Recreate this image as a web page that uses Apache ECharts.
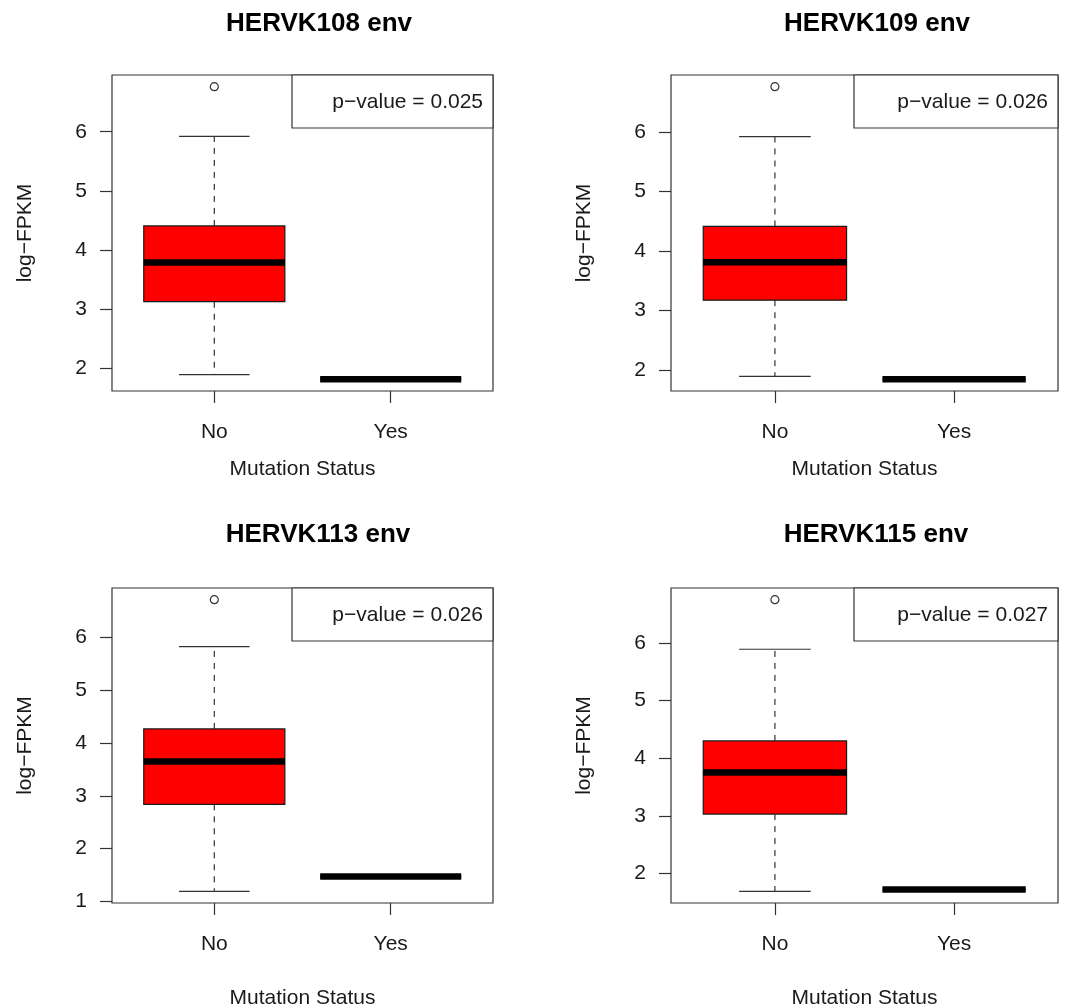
<!DOCTYPE html>
<html>
<head>
<meta charset="utf-8">
<script src="https://cdn.jsdelivr.net/npm/echarts@6/dist/echarts.min.js"></script>
<style>
  html, body { margin: 0; padding: 0; background: #fff; }
  #chart { width: 1073px; height: 1007px; }
</style>
</head>
<body>
<div id="chart"></div>
<script>
// ---------------- data ----------------
const categories = ['No', 'Yes'];
const panelTitles = ['HERVK108 env', 'HERVK109 env', 'HERVK113 env', 'HERVK115 env'];
const pValueLabels = ['p\u2212value = 0.025', 'p\u2212value = 0.026', 'p\u2212value = 0.026', 'p\u2212value = 0.027'];
// "No" group: [lower whisker, Q1, median, Q3, upper whisker]
const noStats108 = [1.90, 3.13, 3.79, 4.41, 5.92];
const noStats109 = [1.89, 3.17, 3.81, 4.41, 5.92];
const noStats113 = [1.19, 2.84, 3.65, 4.27, 5.83];
const noStats115 = [1.69, 3.03, 3.75, 4.30, 5.89];
// "No" group outliers
const noOutliers108 = [6.76];
const noOutliers109 = [6.76];
const noOutliers113 = [6.72];
const noOutliers115 = [6.75];
// "Yes" group: all values identical
const yesValue108 = 1.82;
const yesValue109 = 1.84;
const yesValue113 = 1.47;
const yesValue115 = 1.72;
// tick labels
const yTicks108 = [2, 3, 4, 5, 6];
const yTicks109 = [2, 3, 4, 5, 6];
const yTicks113 = [1, 2, 3, 4, 5, 6];
const yTicks115 = [2, 3, 4, 5, 6];
const xTickValues = [1, 2];
const yAxisTitle = 'log\u2212FPKM';
const xAxisTitle = 'Mutation Status';

const noStats = [noStats108, noStats109, noStats113, noStats115];
const noOutliers = [noOutliers108, noOutliers109, noOutliers113, noOutliers115];
const yesValues = [yesValue108, yesValue109, yesValue113, yesValue115];
const yTicks = [yTicks108, yTicks109, yTicks113, yTicks115];

// ---------------- layout ----------------
const FONT = '"Liberation Sans", Arial, Helvetica, sans-serif';
const gridRects = [
  { left: 112, top: 75, width: 381, height: 316 },
  { left: 671, top: 75, width: 387, height: 316 },
  { left: 112, top: 588, width: 381, height: 315 },
  { left: 671, top: 588, width: 387, height: 315 }
];
const titleCenters = [[319, 24], [877, 24], [318, 535], [876, 535]];
const legendLeft = [292, 854, 292, 854];
const legendHeight = 53;
const xNameGap = [68, 68, 85, 85];

const INK = '#1a1a1a';
const FRAME = '#333';

function yRange(i) {
  const vals = noStats[i].concat(noOutliers[i], [yesValues[i]]);
  const lo = Math.min.apply(null, vals), hi = Math.max.apply(null, vals);
  const ext = (hi - lo) * 0.04;
  return [lo - ext, hi + ext];
}

function renderBox(params, api) {
  const x = api.value(0);
  const lo = api.value(1), q1 = api.value(2), med = api.value(3), q3 = api.value(4), hi = api.value(5);
  const half = 0.4, capHalf = 0.2;
  const tl = api.coord([x - half, q3]);
  const br = api.coord([x + half, q1]);
  const cHi = api.coord([x, hi]);
  const cLo = api.coord([x, lo]);
  const cQ1 = api.coord([x, q1]);
  const cQ3 = api.coord([x, q3]);
  const mL = api.coord([x - half, med]);
  const mR = api.coord([x + half, med]);
  const capHL = api.coord([x - capHalf, hi]);
  const capHR = api.coord([x + capHalf, hi]);
  const capLL = api.coord([x - capHalf, lo]);
  const capLR = api.coord([x + capHalf, lo]);
  const dashStyle = { stroke: FRAME, lineWidth: 1.2, lineDash: [6, 6] };
  const solid = { stroke: FRAME, lineWidth: 1.2 };
  return {
    type: 'group',
    children: [
      { type: 'line', shape: { x1: cQ3[0], y1: cQ3[1], x2: cHi[0], y2: cHi[1] }, style: dashStyle },
      { type: 'line', shape: { x1: cQ1[0], y1: cQ1[1], x2: cLo[0], y2: cLo[1] }, style: dashStyle },
      { type: 'line', shape: { x1: capHL[0], y1: capHL[1], x2: capHR[0], y2: capHR[1] }, style: solid },
      { type: 'line', shape: { x1: capLL[0], y1: capLL[1], x2: capLR[0], y2: capLR[1] }, style: solid },
      { type: 'rect', shape: { x: tl[0], y: tl[1], width: br[0] - tl[0], height: br[1] - tl[1] },
        style: { fill: '#ff0000', stroke: INK, lineWidth: 1.2 } },
      { type: 'line', shape: { x1: mL[0], y1: mL[1], x2: mR[0], y2: mR[1] },
        style: { stroke: '#000', lineWidth: 6.5 } }
    ]
  };
}

const grids = [], xAxes = [], yAxes = [], series = [], graphics = [];
for (let i = 0; i < 4; i++) {
  const g = gridRects[i];
  grids.push({
    left: g.left, top: g.top, width: g.width, height: g.height,
    outerBoundsMode: 'none', containLabel: false,
    show: true, borderColor: FRAME, borderWidth: 1.2, backgroundColor: '#fff'
  });
  const yr = yRange(i);
  xAxes.push({
    type: 'value', gridIndex: i, min: 0.42, max: 2.58,
    axisLine: { show: false },
    splitLine: { show: false },
    axisTick: { show: true, inside: false, length: 12, customValues: xTickValues,
      lineStyle: { color: FRAME, width: 1.2 } },
    axisLabel: { show: true, customValues: xTickValues, margin: 31,
      formatter: function (v) { return categories[Math.round(v) - 1]; },
      color: INK, fontSize: 21, fontFamily: FONT },
    name: xAxisTitle, nameLocation: 'middle', nameGap: xNameGap[i],
    nameTextStyle: { color: INK, fontSize: 21, fontFamily: FONT }
  });
  yAxes.push({
    type: 'value', gridIndex: i, min: yr[0], max: yr[1],
    axisLine: { show: false },
    splitLine: { show: false },
    axisTick: { show: true, inside: false, length: 12, customValues: yTicks[i],
      lineStyle: { color: FRAME, width: 1.2 } },
    axisLabel: { show: true, customValues: yTicks[i], margin: 25,
      color: INK, fontSize: 21, fontFamily: FONT },
    name: yAxisTitle, nameLocation: 'middle', nameGap: 76, nameRotate: 90,
    nameTextStyle: { color: INK, fontSize: 21, fontFamily: FONT }
  });
  const s = noStats[i];
  const y = yesValues[i];
  series.push({
    type: 'custom', xAxisIndex: i, yAxisIndex: i,
    renderItem: renderBox,
    encode: { x: 0, y: [1, 2, 3, 4, 5] },
    data: [[1].concat(s), [2, y, y, y, y, y]],
    silent: true
  });
  series.push({
    type: 'scatter', xAxisIndex: i, yAxisIndex: i,
    symbol: 'circle', symbolSize: 8,
    itemStyle: { color: '#fff', borderColor: FRAME, borderWidth: 1.2, opacity: 1 },
    data: noOutliers[i].map(function (v) { return [1, v]; }),
    silent: true, z: 5
  });
  // title
  graphics.push({
    type: 'text', x: titleCenters[i][0], y: titleCenters[i][1],
    style: { text: panelTitles[i], fontSize: 26, fontWeight: 'bold', fontFamily: FONT,
      fill: '#000', align: 'center', verticalAlign: 'middle' }
  });
  // legend box
  const right = g.left + g.width;
  graphics.push({
    type: 'rect', z: 10,
    shape: { x: legendLeft[i], y: g.top, width: right - legendLeft[i], height: legendHeight },
    style: { fill: '#fff', stroke: FRAME, lineWidth: 1.2 }
  });
  graphics.push({
    type: 'text', z: 11, x: right - 10, y: g.top + legendHeight / 2 + 1,
    style: { text: pValueLabels[i], fontSize: 21, fontFamily: FONT, fill: INK,
      align: 'right', verticalAlign: 'middle' }
  });
}

const chart = echarts.init(document.getElementById('chart'), null, { renderer: 'canvas' });
chart.setOption({
  backgroundColor: '#fff',
  animation: false,
  grid: grids,
  xAxis: xAxes,
  yAxis: yAxes,
  series: series,
  graphic: graphics
});
</script>
</body>
</html>
